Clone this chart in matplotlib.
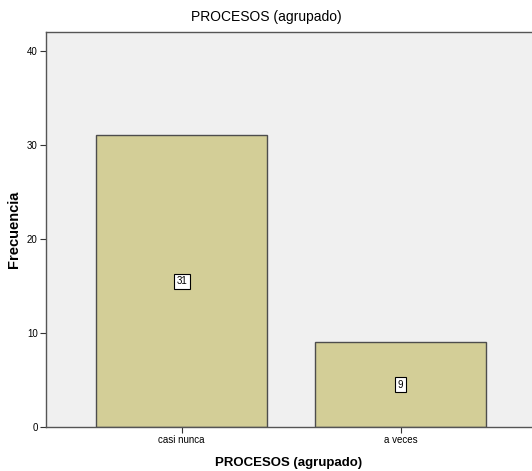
import matplotlib
matplotlib.use("Agg")
import matplotlib.pyplot as plt

categories = ["casi nunca", "a veces"]
values = [31, 9]
yticks = [0, 10, 20, 30, 40]

plt.rcParams['font.family'] = ['Liberation Sans', 'DejaVu Sans']

fig = plt.figure(figsize=(5.32, 4.71), dpi=100)
ax = fig.add_axes([0.0865, 0.0934, 0.9135, 0.8386])
ax.set_facecolor('#F0F0F0')

x = list(range(len(categories)))
bars = ax.bar(x, values, width=0.78, color='#D3CE97', edgecolor='#4D4D4D', linewidth=1.0, zorder=2)
for xi, v in zip(x, values):
    ax.text(xi, v / 2, str(v), ha='center', va='center', fontsize=7,
            bbox=dict(boxstyle='square,pad=0.25', facecolor='white', edgecolor='black', linewidth=0.8), zorder=3)

ax.set_xlim(-0.62, 1.60)
ax.set_ylim(0, 42)
ax.set_xticks(x)
ax.set_xticklabels(categories, fontsize=7)
ax.set_yticks(yticks)
ax.set_yticklabels([str(t) for t in yticks], fontsize=7)
ax.tick_params(axis='both', length=4, width=0.8, color='#333333', pad=2)

for side in ['left', 'bottom', 'top']:
    ax.spines[side].set_color('#555555')
    ax.spines[side].set_linewidth(1.0)
ax.spines['right'].set_visible(False)

fig.text(0.5, 1 - 17 / 471, "PROCESOS (agrupado)", fontsize=10, ha='center', va='center')
ax.set_xlabel("PROCESOS (agrupado)", fontsize=9.5, fontweight='bold')
ax.xaxis.set_label_coords(0.5, -(463 - 427) / 395)
ax.xaxis.label.set_va('center')
ax.set_ylabel("Frecuencia", fontsize=10.5, fontweight='bold')
ax.yaxis.set_label_coords(-(46 - 14) / 486, 0.5)
ax.yaxis.label.set_va('center')

fig.savefig("out.png", dpi=100)
